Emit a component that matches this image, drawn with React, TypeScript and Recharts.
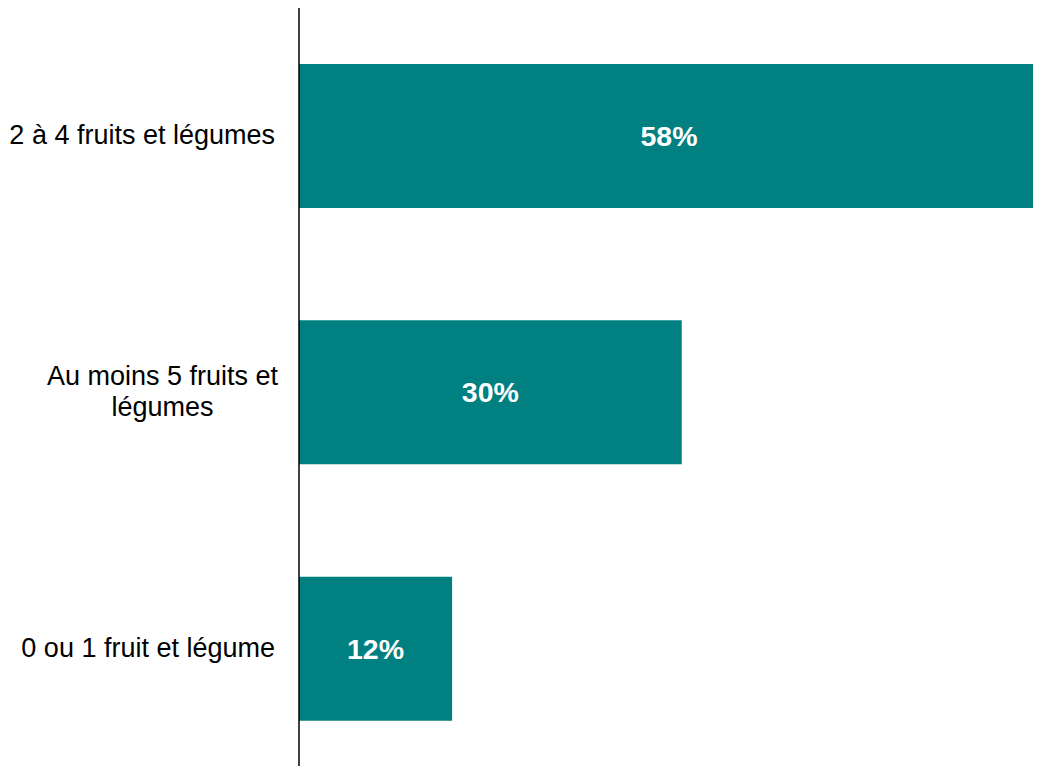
import React from 'react';
import { BarChart, Bar, XAxis, YAxis, LabelList } from 'recharts';

// category labels, top to bottom, already split the way the original wraps them
const categoryLines: string[][] = [
  ['2 à 4 fruits et légumes'],
  ['Au moins 5 fruits et', 'légumes'],
  ['0 ou 1 fruit et légume'],
];
const categories = categoryLines.map(l => l.join(' '));
const shares = [58, 30, 12];

const data = categories.map((name, i) => ({ name, value: shares[i] }));

const FONT = "'Liberation Sans', Arial, sans-serif";
const LABEL_SIZE = 27;
const LINE_HEIGHT = 31;

let ctx: CanvasRenderingContext2D | null = null;
const measure = (text: string) => {
  if (!ctx) ctx = document.createElement('canvas').getContext('2d');
  if (!ctx) return text.length * LABEL_SIZE * 0.5;
  ctx.font = `${LABEL_SIZE}px ${FONT}`;
  return ctx.measureText(text).width;
};

const CategoryTick = (props: any) => {
  const { x, y, payload } = props;
  const idx = categories.indexOf(payload.value);
  const lines = idx >= 0 ? categoryLines[idx] : [String(payload.value)];
  const first = y - ((lines.length - 1) * LINE_HEIGHT) / 2 + 8;
  if (lines.length === 1) {
    return (
      <text x={x} y={first} textAnchor="end" fill="#000" fontSize={LABEL_SIZE} fontFamily={FONT}>
        {lines[0]}
      </text>
    );
  }
  // wrapped labels are centred on each other, block pushed against the axis
  const widest = Math.max(...lines.map(measure));
  const cx = x + 3 - widest / 2;
  return (
    <text textAnchor="middle" fill="#000" fontSize={LABEL_SIZE} fontFamily={FONT}>
      {lines.map((l, i) => (
        <tspan key={i} x={cx} y={first + i * LINE_HEIGHT}>{l}</tspan>
      ))}
    </text>
  );
};

export default function App() {
  return (
    <div style={{ width: 1033, height: 766, overflow: 'hidden', marginBottom: -8 }}>
      <BarChart
        width={1033}
        height={769}
        data={data}
        layout="vertical"
        margin={{ top: 0, right: 2, bottom: 0, left: 0 }}
      >
        <XAxis type="number" domain={[0, 58]} allowDataOverflow hide />
        <YAxis
          type="category"
          dataKey="name"
          width={291}
          axisLine={{ stroke: '#000', strokeWidth: 1.5 }}
          tickLine={false}
          tickSize={0}
          tickMargin={24}
          tick={<CategoryTick />}
        />
        <Bar dataKey="value" fill="#008080" barSize={144} isAnimationActive={false}>
          <LabelList
            dataKey="value"
            position="center"
            formatter={(v: any) => `${v}%`}
            fill="#fff"
            fontSize={28.5}
            fontWeight="bold"
            fontFamily={FONT}
          />
        </Bar>
      </BarChart>
    </div>
  );
}
